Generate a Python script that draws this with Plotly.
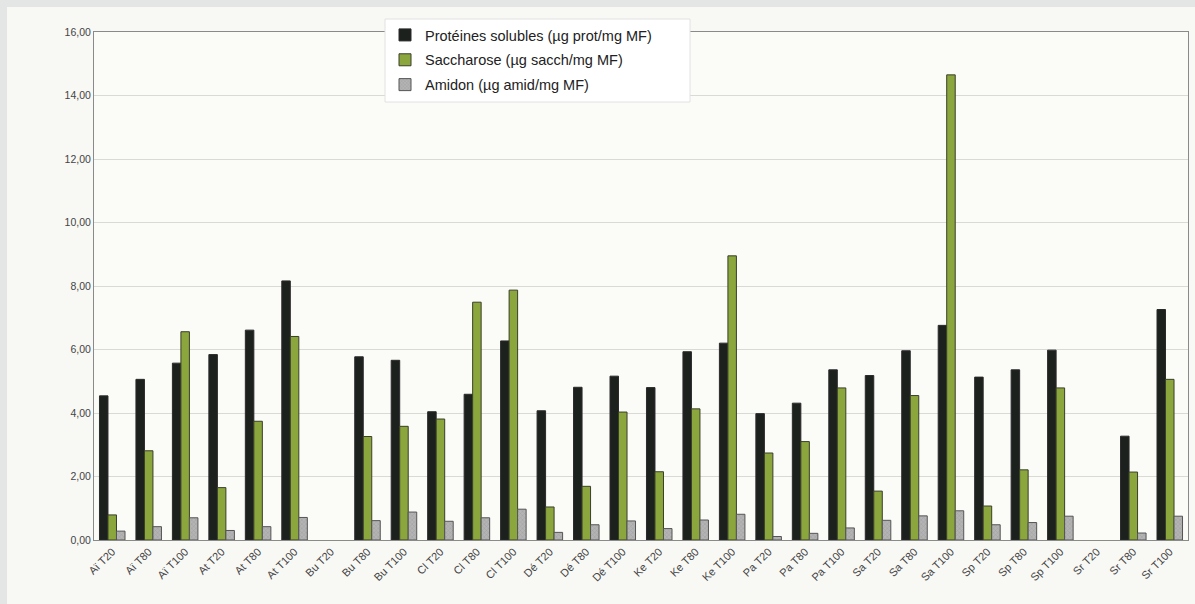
import plotly.graph_objects as go

categories = ["Aï T20", "Aï T80", "Aï T100", "At T20", "At T80", "At T100",
              "Bu T20", "Bu T80", "Bu T100", "Cl T20", "Cl T80", "Cl T100",
              "Dé T20", "Dé T80", "Dé T100", "Ke T20", "Ke T80", "Ke T100",
              "Pa T20", "Pa T80", "Pa T100", "Sa T20", "Sa T80", "Sa T100",
              "Sp T20", "Sp T80", "Sp T100", "Sr T20", "Sr T80", "Sr T100"]

proteines = [4.54, 5.06, 5.57, 5.84, 6.61, 8.16,
             None, 5.77, 5.66, 4.04, 4.59, 6.27,
             4.07, 4.81, 5.16, 4.80, 5.93, 6.20,
             3.98, 4.31, 5.36, 5.18, 5.96, 6.76,
             5.13, 5.36, 5.98, None, 3.27, 7.26]

saccharose = [0.79, 2.81, 6.56, 1.65, 3.74, 6.41,
              None, 3.26, 3.58, 3.81, 7.49, 7.87,
              1.04, 1.69, 4.03, 2.15, 4.13, 8.95,
              2.74, 3.10, 4.79, 1.54, 4.55, 14.65,
              1.07, 2.21, 4.79, None, 2.14, 5.06]

amidon = [0.28, 0.42, 0.70, 0.30, 0.42, 0.71,
          None, 0.61, 0.88, 0.59, 0.70, 0.97,
          0.24, 0.48, 0.60, 0.36, 0.63, 0.81,
          0.11, 0.21, 0.38, 0.62, 0.76, 0.92,
          0.48, 0.55, 0.75, None, 0.22, 0.75]

series_names = ["Protéines solubles (µg prot/mg MF)",
                "Saccharose (µg sacch/mg MF)",
                "Amidon (µg amid/mg MF)"]

fig = go.Figure()
fig.add_trace(go.Bar(x=categories, y=proteines, name=series_names[0], legendgroup="a",
                     marker=dict(color="#1c211e", line=dict(color="#2a2a2a", width=1))))
fig.add_trace(go.Bar(x=categories, y=saccharose, name=series_names[1], legendgroup="b",
                     marker=dict(color="#8aa63c", line=dict(color="#3a3f2a", width=1))))
fig.add_trace(go.Bar(x=categories, y=amidon, name=series_names[2], legendgroup="c",
                     marker=dict(color="#a9a9a9", line=dict(color="#555555", width=1),
                                 pattern=dict(shape="x", fgcolor="#8c8c8c", bgcolor="#b4b4b4",
                                              size=3, solidity=0.3))))

fig.update_layout(
    width=1195, height=604,
    margin=dict(l=94, r=7, t=32, b=64),
    paper_bgcolor="#f8f8f5",
    plot_bgcolor="#fbfbf8",
    barmode="group",
    bargap=0.30,
    bargroupgap=0,
    separators=", ",
    font=dict(family="Liberation Sans, Arial, sans-serif", color="#333333"),
    showlegend=True,
    legend=dict(x=0.266, y=1.0256, xanchor="left", yanchor="top",
                bgcolor="rgba(255,255,255,0)", borderwidth=0,
                font=dict(size=14.5, color="#222222"),
                traceorder="grouped", tracegroupgap=3, itemwidth=30),
    xaxis=dict(type="category", tickangle=-45, tickfont=dict(size=11, color="#444444"),
               showline=True, linecolor="#8a8a8a", linewidth=1, mirror=True,
               ticks="", range=[-0.5, 29.5]),
    yaxis=dict(range=[0, 16], dtick=2, tickformat=".2f",
               tickfont=dict(size=10.5, color="#444444"),
               showgrid=True, gridcolor="#d9d9d6", gridwidth=1,
               showline=True, linecolor="#8a8a8a", linewidth=1, mirror=True,
               ticks="", zeroline=False),
    shapes=[
        dict(type="rect", xref="paper", yref="paper",
             x0=-94/1094, x1=(-94 + 7)/1094, y0=-64/508, y1=540/508,
             line=dict(width=0), fillcolor="#e4e6e6", layer="below"),
        dict(type="rect", xref="paper", yref="paper",
             x0=-94/1094, x1=1101/1094, y0=(540 - 7)/508, y1=540/508,
             line=dict(width=0), fillcolor="#e4e6e6", layer="below"),
        dict(type="rect", xref="paper", yref="paper",
             x0=(385 - 94)/1094, x1=(690 - 94)/1094, y0=(540 - 102)/508, y1=(540 - 19)/508,
             line=dict(width=1, color="#e2e2e2"), fillcolor="#ffffff", layer="above"),
    ],
)

fig.write_html("out.html", config={"displayModeBar": False},
               post_script="document.body.style.margin='0';document.body.style.background='#e4e6e6';")
